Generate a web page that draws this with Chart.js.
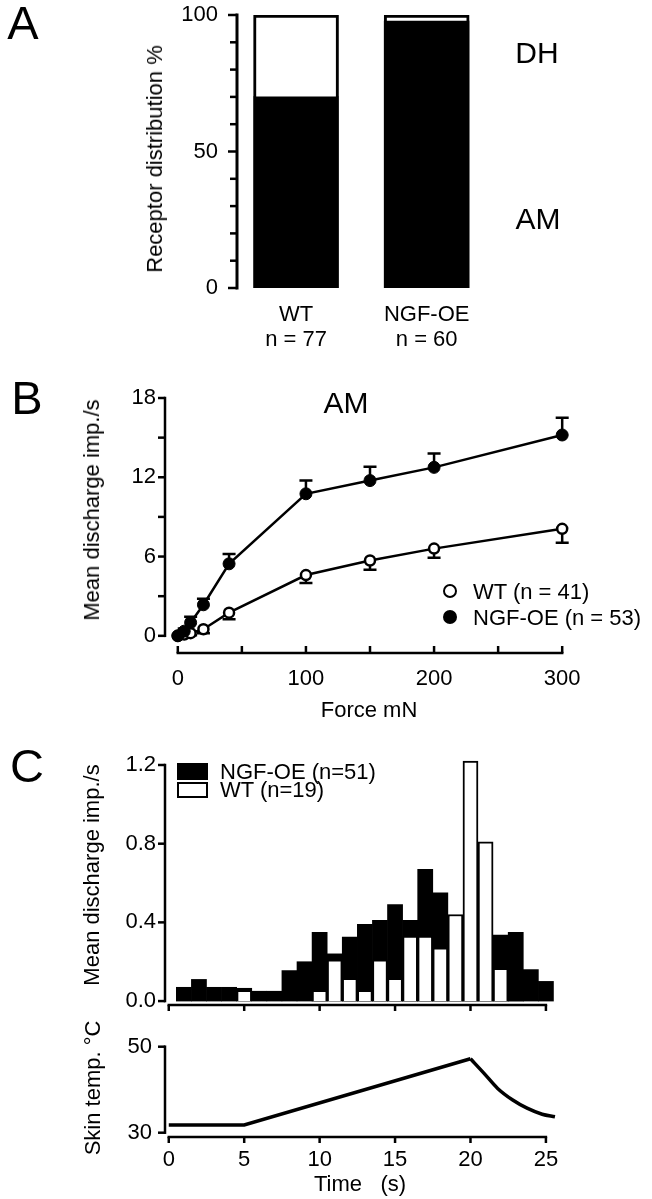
<!DOCTYPE html>
<html>
<head>
<meta charset="utf-8">
<title>Receptor distribution and discharge</title>
<script src="https://cdn.jsdelivr.net/npm/chart.js@4.4.1/dist/chart.umd.min.js"></script>
<style>
  html, body { margin: 0; padding: 0; background: #fff; }
  #figure {
    position: relative;
    width: 652px;
    height: 1199px;
    overflow: hidden;
    font-family: 'Liberation Sans', Arial, sans-serif;
    color: #000;
  }
  canvas { position: absolute; left: 0; }
  .t {
    position: absolute;
    transform: translate(-50%, -50%);
    line-height: 1;
    white-space: pre;
    font-size: 22px;
  }
  .t.left { transform: translate(0, -50%); }
  .t.vert { transform: translate(-50%, -50%) rotate(-90deg); }
  .panel { font-size: 47px; }
  .big { font-size: 30px; }
  .dot {
    position: absolute;
    width: 14px;
    height: 14px;
    border-radius: 50%;
    box-sizing: border-box;
    transform: translate(-50%, -50%);
    background: #000;
  }
  .dot.open { background: #fff; border: 2.5px solid #000; }
  .swatch { position: absolute; box-sizing: border-box; background: #000; }
  .swatch.open { background: #fff; border: 2.5px solid #000; }
</style>
</head>
<body>
<div id="figure">
  <canvas id="chart-a" width="652" height="360" style="top:0px"></canvas>
  <canvas id="chart-b" width="652" height="370" style="top:360px"></canvas>
  <canvas id="chart-c" width="652" height="300" style="top:730px"></canvas>
  <canvas id="chart-temp" width="652" height="169" style="top:1030px"></canvas>

  <!-- panel A -->
  <div class="t panel" style="left:23px; top:22px">A</div>
  <div class="t vert" style="left:155px; top:159px">Receptor distribution %</div>
  <div class="t big" style="left:537px; top:53px">DH</div>
  <div class="t big" style="left:538px; top:219px">AM</div>

  <!-- panel B -->
  <div class="t panel" style="left:27px; top:397px">B</div>
  <div class="t big" style="left:346px; top:403px">AM</div>
  <div class="t vert" style="left:92px; top:510px">Mean discharge imp./s</div>
  <div class="dot open" style="left:450px; top:591px"></div>
  <div class="dot" style="left:450px; top:617px"></div>
  <div class="t left" style="left:473px; top:592px">WT (n = 41)</div>
  <div class="t left" style="left:473px; top:618px">NGF-OE (n = 53)</div>
  <div class="t" style="left:369px; top:710px">Force mN</div>

  <!-- panel C -->
  <div class="t panel" style="left:27px; top:765px">C</div>
  <div class="swatch" style="left:177px; top:763px; width:31px; height:17px"></div>
  <div class="swatch open" style="left:177px; top:782px; width:31px; height:16px"></div>
  <div class="t left" style="left:220px; top:772px">NGF-OE (n=51)</div>
  <div class="t left" style="left:220px; top:790px">WT (n=19)</div>
  <div class="t vert" style="left:92px; top:875px">Mean discharge imp./s</div>
  <div class="t vert" style="left:93px; top:1088px">Skin temp. °C</div>
  <div class="t" style="left:360px; top:1184px">Time   (s)</div>
</div>

<script>
const INK = '#000';
const TICK_FONT = '22px "Liberation Sans", Arial, sans-serif';

// A: receptor distribution (AM black, DH white)
const groups = ['WT', 'NGF-OE'];
const groupN = ['n = 77', 'n = 60'];
const groupPos = [1, 2];
const amPercent = [70, 97.8];
const dhPercent = [30, 2.2];
const distTicks = [0, 10, 20, 30, 40, 50, 60, 70, 80, 90, 100];
const distLabelValues = [0, 50, 100];
const distLabels = ['0', '50', '100'];

// B: stimulus-response to force
const forceMN = [0, 5, 10, 20, 40, 100, 150, 200, 300];
const wtDischarge = [0, 0.1, 0.2, 0.5, 1.75, 4.6, 5.7, 6.6, 8.1];
const wtSem = [0, 0.1, 0.15, 0.3, 0.5, 0.6, 0.7, 0.7, 1.05];
const ngfDischarge = [0, 0.35, 1.0, 2.35, 5.45, 10.75, 11.75, 12.75, 15.2];
const ngfSem = [0, 0.2, 0.45, 0.45, 0.75, 1.0, 1.05, 1.05, 1.3];
const forceTicks = [0, 50, 100, 150, 200, 250, 300];
const forceLabelValues = [0, 100, 200, 300];
const forceLabels = ['0', '100', '200', '300'];
const dischargeTicks = [0, 3, 6, 9, 12, 15, 18];
const dischargeLabelValues = [0, 6, 12, 18];
const dischargeLabels = ['0', '6', '12', '18'];

// C: heat response histogram, 1 s bins
const binTime = [1, 2, 3, 4, 5, 6, 7, 8, 9, 10, 11, 12, 13, 14, 15, 16, 17, 18, 19, 20, 21, 22, 23, 24, 25];
const ngfHist = [0.07, 0.11, 0.07, 0.07, 0.065, 0.05, 0.05, 0.155, 0.2, 0.35, 0.24, 0.325, 0.39,
  0.41, 0.49, 0.41, 0.67, 0.55, 0.4, 0.35, 0.3, 0.335, 0.35, 0.16, 0.1];
const wtHist = [0, 0, 0, 0, 0.055, 0, 0, 0, 0, 0.055, 0.21, 0.115, 0.055,
  0.21, 0.115, 0.33, 0.33, 0.27, 0.44, 1.22, 0.81, 0.167, 0, 0, 0];
const histTicks = [0, 0.4, 0.8, 1.2];
const histLabels = ['0.0', '0.4', '0.8', '1.2'];
const timeTicks = [0, 5, 10, 15, 20, 25];
const timeLabels = ['0', '5', '10', '15', '20', '25'];

// C: skin temperature, linear ramp then passive cooling
const rampTime = [0, 5, 20];
const rampTemp = [31.8, 31.8, 47.2];
const coolTime = [20, 20.9, 21.8, 22.8, 23.75, 24.75, 25.6];
const coolTemp = [47.2, 43.8, 40.3, 37.6, 35.7, 34.3, 33.7];
const tempTicks = [30, 50];
const tempLabels = ['30', '50'];

function points(xs, ys) {
  return xs.map((x, i) => ({ x, y: ys[i] }));
}

function baseOptions(padding, x, y) {
  return {
    responsive: false,
    animation: false,
    events: [],
    devicePixelRatio: 1,
    layout: { padding },
    plugins: { legend: { display: false }, tooltip: { enabled: false } },
    scales: {
      x: Object.assign({ type: 'linear', display: false, offset: false }, x),
      y: Object.assign({ type: 'linear', display: false }, y),
    },
  };
}

// journal style axes: line + ticks + labels, positioned by the chart's scales
function paperAxes(axes) {
  return {
    id: 'paperAxes',
    afterDatasetsDraw(chart) {
      const { ctx, chartArea } = chart;
      ctx.save();
      ctx.strokeStyle = INK;
      ctx.fillStyle = INK;
      ctx.font = TICK_FONT;
      axes.forEach((ax) => {
        const scale = chart.scales[ax.scale];
        const vertical = ax.scale === 'y';
        const base = vertical ? chartArea.left : chartArea.bottom;
        if (ax.from !== undefined) {
          const a = scale.getPixelForValue(ax.from);
          const b = scale.getPixelForValue(ax.to);
          ctx.lineWidth = ax.lineWidth;
          ctx.lineCap = 'square';
          ctx.beginPath();
          if (vertical) {
            ctx.moveTo(base, a);
            ctx.lineTo(base, b);
          } else {
            ctx.moveTo(a, base);
            ctx.lineTo(b, base);
          }
          ctx.stroke();
        }
        ctx.lineCap = 'butt';
        ctx.lineWidth = ax.tickWidth || 2.5;
        (ax.ticks || []).forEach((v) => {
          const p = scale.getPixelForValue(v);
          const minor = ax.minorLength && !ax.labelValues.includes(v);
          const len = minor ? ax.minorLength : ax.tickLength;
          ctx.beginPath();
          if (vertical) {
            ctx.moveTo(base, p);
            ctx.lineTo(base - len, p);
          } else {
            ctx.moveTo(p, base);
            ctx.lineTo(p, base + ax.tickDir * len);
          }
          ctx.stroke();
        });
        (ax.labels || []).forEach((text, i) => {
          const p = scale.getPixelForValue(ax.labelValues[i]);
          ctx.textBaseline = 'middle';
          if (vertical) {
            ctx.textAlign = 'right';
            ctx.fillText(text, base - ax.labelOffset, p);
          } else {
            ctx.textAlign = 'center';
            [].concat(text).forEach((line, k) => {
              ctx.fillText(line, p, base + ax.labelOffset + k * (ax.lineHeight || 0));
            });
          }
        });
      });
      ctx.restore();
    },
  };
}

// SEM whiskers: NGF-OE upwards, WT downwards
function errorBars(series) {
  return {
    id: 'errorBars',
    beforeDatasetsDraw(chart) {
      const { ctx } = chart;
      const xs = chart.scales.x;
      const ys = chart.scales.y;
      ctx.save();
      ctx.strokeStyle = INK;
      ctx.lineWidth = 2.5;
      series.forEach((s) => {
        s.x.forEach((xv, i) => {
          if (!s.err[i]) return;
          const px = xs.getPixelForValue(xv);
          const p0 = ys.getPixelForValue(s.y[i]);
          const p1 = ys.getPixelForValue(s.y[i] + s.dir * s.err[i]);
          ctx.beginPath();
          ctx.moveTo(px, p0);
          ctx.lineTo(px, p1);
          ctx.moveTo(px - 6.5, p1);
          ctx.lineTo(px + 6.5, p1);
          ctx.stroke();
        });
      });
      ctx.restore();
    },
  };
}

new Chart(document.getElementById('chart-a'), {
  type: 'bar',
  data: {
    datasets: [
      {
        data: points(groupPos, amPercent),
        backgroundColor: INK,
        borderWidth: 0,
        barThickness: 85,
      },
      {
        data: points(groupPos, dhPercent),
        backgroundColor: '#fff',
        borderColor: INK,
        borderWidth: 3,
        borderSkipped: 'bottom',
        barThickness: 85,
      },
    ],
  },
  options: baseOptions(
    { left: 237, right: 160, top: 15, bottom: 72 },
    { min: 0.548, max: 2.5, stacked: true },
    { min: 0, max: 100, stacked: true }
  ),
  plugins: [
    paperAxes([
      {
        scale: 'y', from: 0, to: 100, lineWidth: 3, tickWidth: 2.5,
        ticks: distTicks, tickLength: 9, minorLength: 7,
        labelValues: distLabelValues, labels: distLabels, labelOffset: 19,
      },
      {
        scale: 'x', labelValues: groupPos,
        labels: groups.map((g, i) => [g, groupN[i]]),
        labelOffset: 26.5, lineHeight: 25,
      },
    ]),
  ],
});

new Chart(document.getElementById('chart-b'), {
  type: 'line',
  data: {
    datasets: [
      {
        data: points(forceMN, ngfDischarge),
        borderColor: INK,
        borderWidth: 2.5,
        pointRadius: 6,
        pointBackgroundColor: INK,
        pointBorderColor: INK,
        pointBorderWidth: 1,
        clip: false,
      },
      {
        data: points(forceMN, wtDischarge),
        borderColor: INK,
        borderWidth: 2.5,
        pointRadius: 5,
        pointBackgroundColor: '#fff',
        pointBorderColor: INK,
        pointBorderWidth: 2.5,
        clip: false,
      },
    ],
  },
  options: baseOptions(
    { left: 165, right: 77, top: 38, bottom: 77 },
    { min: -10, max: 310 },
    { min: -1.3, max: 18 }
  ),
  plugins: [
    errorBars([
      { x: forceMN, y: ngfDischarge, err: ngfSem, dir: 1 },
      { x: forceMN, y: wtDischarge, err: wtSem, dir: -1 },
    ]),
    paperAxes([
      {
        scale: 'y', from: 0, to: 18, lineWidth: 2.5,
        ticks: dischargeTicks, tickLength: 7,
        labelValues: dischargeLabelValues, labels: dischargeLabels, labelOffset: 9,
      },
      {
        scale: 'x', from: 0, to: 300, lineWidth: 2.5,
        ticks: forceTicks, tickLength: 7, tickDir: -1,
        labelValues: forceLabelValues, labels: forceLabels, labelOffset: 25.5,
      },
    ]),
  ],
});

new Chart(document.getElementById('chart-c'), {
  type: 'bar',
  data: {
    datasets: [
      {
        data: points(binTime, wtHist),
        backgroundColor: '#fff',
        borderColor: INK,
        borderWidth: 2,
        grouped: false,
        barPercentage: 1,
        categoryPercentage: 1,
        clip: false,
      },
      {
        data: points(binTime, ngfHist),
        backgroundColor: INK,
        borderWidth: 0,
        grouped: false,
        barPercentage: 1,
        categoryPercentage: 1,
      },
    ],
  },
  options: baseOptions(
    { left: 165, right: 91, top: 35, bottom: 25 },
    { min: -0.25, max: 26, ticks: { stepSize: 5, includeBounds: false } },
    { min: -0.02, max: 1.2 }
  ),
  plugins: [
    paperAxes([
      {
        scale: 'y', from: 0, to: 1.2, lineWidth: 2.5,
        ticks: histTicks, tickLength: 7,
        labelValues: histTicks, labels: histLabels, labelOffset: 9,
      },
      {
        scale: 'x', from: 0, to: 25, lineWidth: 2.5,
        ticks: timeTicks, tickLength: 6, tickDir: 1,
      },
    ]),
  ],
});

new Chart(document.getElementById('chart-temp'), {
  type: 'line',
  data: {
    datasets: [
      {
        data: points(rampTime, rampTemp),
        borderColor: INK,
        borderWidth: 3.5,
        pointRadius: 0,
        clip: false,
      },
      {
        data: points(coolTime, coolTemp),
        borderColor: INK,
        borderWidth: 3.5,
        pointRadius: 0,
        cubicInterpolationMode: 'monotone',
        clip: false,
      },
    ],
  },
  options: baseOptions(
    { left: 165, right: 91, top: 16.7, bottom: 62 },
    { min: -0.25, max: 26 },
    { min: 29, max: 50 }
  ),
  plugins: [
    paperAxes([
      {
        scale: 'y', from: 30, to: 50, lineWidth: 2.5,
        ticks: tempTicks, tickLength: 7,
        labelValues: tempTicks, labels: tempLabels, labelOffset: 13,
      },
      {
        scale: 'x', from: 0, to: 25, lineWidth: 2.5,
        ticks: timeTicks, tickLength: 6, tickDir: 1,
        labelValues: timeTicks, labels: timeLabels, labelOffset: 22.5,
      },
    ]),
  ],
});
</script>
</body>
</html>
